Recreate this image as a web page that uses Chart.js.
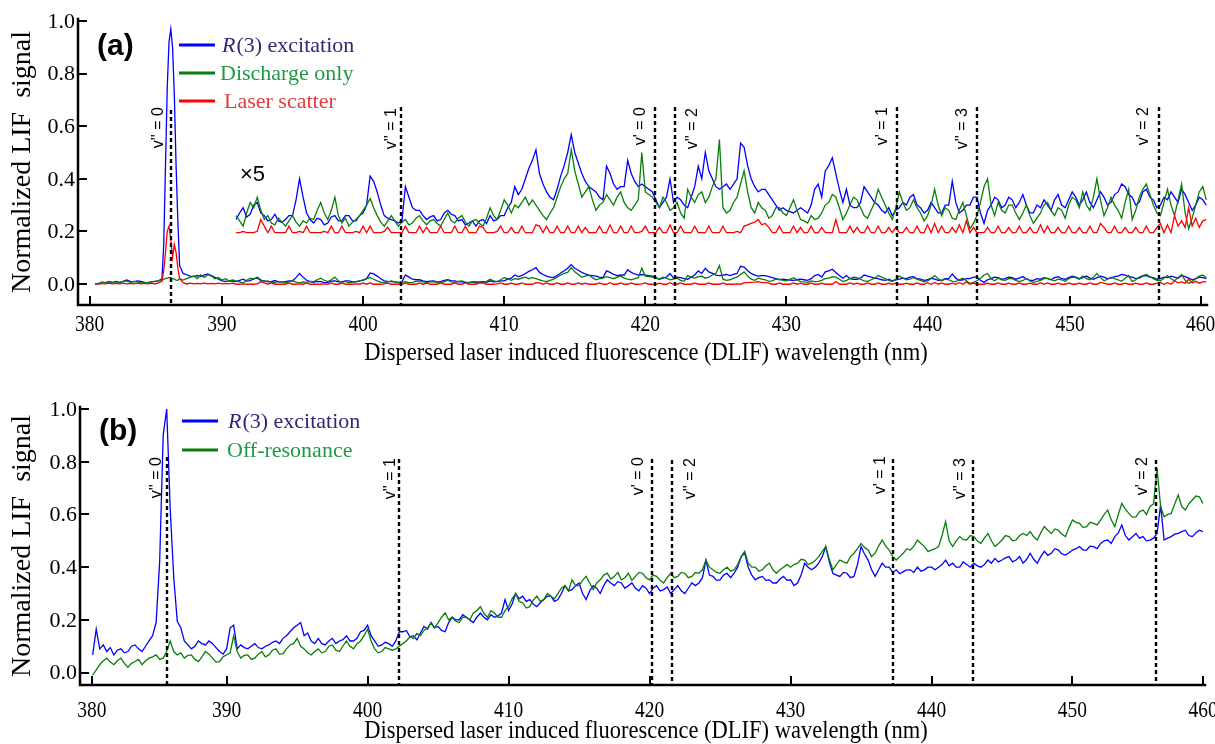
<!DOCTYPE html>
<html>
<head>
<meta charset="utf-8">
<title>DLIF spectra</title>
<script src="https://cdn.jsdelivr.net/npm/chart.js@4.4.1/dist/chart.umd.min.js"></script>
<style>
  html, body { margin: 0; padding: 0; background: #fff; }
  .panel { position: absolute; left: 0; width: 1215px; height: 372px; }
  #panelA { top: 0; }
  #panelB { top: 372px; }
</style>
</head>
<body>
<div class="panel" id="panelA"><canvas id="chartA"></canvas></div>
<div class="panel" id="panelB"><canvas id="chartB"></canvas></div>
<script>
// ---------- axis ticks ----------
const tickLabels = ['380', '390', '400', '410', '420', '430', '440', '450', '460'];
const aTickPos = [380.62, 390, 400, 410, 420, 430, 440, 450.1, 459.35];
const bTickPos = [380.45, 390, 400, 410, 420, 430, 440, 450, 459.27];
const yTicks = [0, 0.2, 0.4, 0.6, 0.8, 1.0];

// ---------- vibronic band markers ----------
const markerLabels = ["v'' = 0", "v'' = 1", "v' = 0", "v'' = 2", "v' = 1", "v'' = 3", "v' = 2"];
const aMarkers = [386.36, 402.72, 420.67, 422.09, 437.8, 443.49, 456.4];
const bMarkers = [385.8, 402.22, 420.16, 421.58, 437.28, 442.93, 455.9];

// ---------- panel (a), full scale, 381-391 nm ----------
const aLowWl = [381, 381.25, 381.5, 381.75, 382, 382.25, 382.5, 382.75, 383, 383.25,
  383.5, 383.75, 384, 384.25, 384.5, 384.75, 385, 385.25, 385.5, 385.75,
  385.875, 386, 386.125, 386.25, 386.375, 386.5, 386.625, 386.75, 386.875, 387,
  387.25, 387.5, 387.75, 388, 388.25, 388.5, 388.75, 389, 389.25, 389.5,
  389.75, 390, 390.25, 390.5, 390.75];
const aBlueLow = [0, 0, 0.002, 0.005, 0.008, 0.005, 0.01, 0.006, 0.01, 0.015,
  0.01, 0.008, 0.012, 0.01, 0.006, 0.005, 0.008, 0.01, 0.012, 0.02,
  0.15, 0.45, 0.75, 0.92, 0.97, 0.9, 0.72, 0.45, 0.24, 0.07,
  0.04, 0.035, 0.03, 0.028, 0.032, 0.028, 0.035, 0.038, 0.032, 0.025,
  0.018, 0.012, 0.01, 0.012, 0.01];
const aGreenLow = [0, 0.002, 0.008, 0.005, 0.01, 0.006, 0.008, 0.004, 0.01, 0.012,
  0.006, 0.01, 0.008, 0.004, 0.006, 0.005, 0.008, 0.01, 0.012, 0.015,
  0.018, 0.02, 0.022, 0.025, 0.024, 0.02, 0.018, 0.015, 0.014, 0.02,
  0.015, 0.02, 0.025, 0.03, 0.02, 0.035, 0.025, 0.035, 0.03, 0.02,
  0.025, 0.015, 0.02, 0.012, 0.015];
const aRedLow = [0, 0, 0.002, 0, 0.003, 0, 0.002, 0, 0.003, 0,
  0.002, 0, 0.003, 0, 0.002, 0, 0.003, 0, 0.004, 0.01,
  0.05, 0.12, 0.2, 0.22, 0.17, 0.1, 0.15, 0.12, 0.06, 0.02,
  0.005, 0, 0.003, 0, 0.002, 0, 0.003, 0, 0.002, 0,
  0.003, 0, 0.002, 0, 0.003];

// ---------- panel (a), x5 traces drawn at 0.2 + 5 x signal ----------
// sampled every 0.25 nm from 391 nm, 8 samples (2 nm) per row
const x5Offset = 0.2;
const x5Gain = 5;
const aX5Start = 391;
const aX5Step = 0.25;
const aBlueX5 = [
  0.245, 0.27, 0.29, 0.255, 0.265, 0.30, 0.31, 0.27,
  0.26, 0.24, 0.245, 0.265, 0.24, 0.235, 0.245, 0.26,
  0.26, 0.32, 0.40, 0.33, 0.27, 0.245, 0.232, 0.25,
  0.245, 0.225, 0.232, 0.255, 0.26, 0.24, 0.24, 0.26,
  0.26, 0.24, 0.24, 0.26, 0.27, 0.30, 0.41, 0.39,
  0.35, 0.30, 0.26, 0.25, 0.245, 0.24, 0.232, 0.24,
  0.37, 0.33, 0.29, 0.28, 0.28, 0.26, 0.245, 0.255,
  0.26, 0.24, 0.245, 0.27, 0.28, 0.265, 0.26, 0.24,
  0.245, 0.225, 0.232, 0.24, 0.22, 0.24, 0.245, 0.23,
  0.26, 0.24, 0.245, 0.26, 0.26, 0.29, 0.31, 0.37,
  0.34, 0.36, 0.40, 0.44, 0.47, 0.51, 0.42, 0.38,
  0.35, 0.33, 0.32, 0.36, 0.41, 0.45, 0.50, 0.568,
  0.50, 0.46, 0.42, 0.39, 0.37, 0.36, 0.35, 0.33,
  0.32, 0.448, 0.42, 0.38, 0.36, 0.37, 0.37, 0.47,
  0.42, 0.39, 0.37, 0.38, 0.37, 0.36, 0.35, 0.32,
  0.29, 0.31, 0.33, 0.40, 0.31, 0.33, 0.32, 0.30,
  0.29, 0.33, 0.37, 0.448, 0.40, 0.50, 0.43, 0.40,
  0.37, 0.36, 0.37, 0.38, 0.36, 0.38, 0.40, 0.536,
  0.52, 0.45, 0.40, 0.37, 0.35, 0.36, 0.36, 0.34,
  0.32, 0.30, 0.28, 0.29, 0.28, 0.275, 0.27, 0.28,
  0.29, 0.28, 0.27, 0.30, 0.36, 0.38, 0.33, 0.43,
  0.45, 0.48, 0.42, 0.36, 0.31, 0.36, 0.30, 0.29,
  0.29, 0.31, 0.37, 0.35, 0.33, 0.31, 0.30, 0.28,
  0.27, 0.29, 0.26, 0.28, 0.29, 0.31, 0.30, 0.33,
  0.34, 0.30, 0.29, 0.27, 0.28, 0.31, 0.29, 0.27,
  0.27, 0.30, 0.30, 0.39, 0.31, 0.27, 0.28, 0.30,
  0.30, 0.33, 0.33, 0.27, 0.23, 0.28, 0.30, 0.33,
  0.32, 0.29, 0.30, 0.33, 0.32, 0.29, 0.31, 0.34,
  0.30, 0.27, 0.27, 0.30, 0.29, 0.32, 0.30, 0.28,
  0.32, 0.34, 0.30, 0.29, 0.32, 0.35, 0.33, 0.30,
  0.32, 0.35, 0.31, 0.29, 0.32, 0.35, 0.33, 0.30,
  0.31, 0.34, 0.35, 0.38, 0.37, 0.34, 0.33, 0.30,
  0.31, 0.35, 0.36, 0.33, 0.32, 0.29, 0.30, 0.33,
  0.32, 0.35, 0.33, 0.31, 0.36, 0.34, 0.31, 0.28,
  0.30, 0.33, 0.32, 0.30];
const aGreenX5 = [
  0.26, 0.24, 0.22, 0.27, 0.31, 0.29, 0.33, 0.28,
  0.245, 0.26, 0.232, 0.225, 0.25, 0.235, 0.22, 0.24,
  0.26, 0.235, 0.22, 0.24, 0.232, 0.25, 0.245, 0.28,
  0.31, 0.27, 0.245, 0.28, 0.33, 0.26, 0.232, 0.25,
  0.22, 0.235, 0.245, 0.26, 0.28, 0.30, 0.325, 0.29,
  0.26, 0.235, 0.22, 0.24, 0.26, 0.24, 0.22, 0.235,
  0.245, 0.225, 0.232, 0.25, 0.26, 0.24, 0.225, 0.24,
  0.245, 0.23, 0.22, 0.245, 0.27, 0.24, 0.232, 0.25,
  0.26, 0.235, 0.22, 0.24, 0.245, 0.23, 0.22, 0.25,
  0.29, 0.26, 0.245, 0.28, 0.32, 0.30, 0.27, 0.30,
  0.29, 0.31, 0.33, 0.30, 0.32, 0.30, 0.28, 0.26,
  0.245, 0.27, 0.29, 0.33, 0.37, 0.40, 0.42, 0.511,
  0.43, 0.38, 0.33, 0.35, 0.37, 0.32, 0.28, 0.30,
  0.31, 0.34, 0.32, 0.30, 0.33, 0.35, 0.31, 0.29,
  0.28, 0.30, 0.32, 0.50, 0.35, 0.34, 0.33, 0.31,
  0.29, 0.33, 0.31, 0.28, 0.29, 0.31, 0.27, 0.25,
  0.36, 0.33, 0.31, 0.34, 0.35, 0.31, 0.33, 0.37,
  0.40, 0.549, 0.29, 0.27, 0.28, 0.31, 0.33, 0.38,
  0.43, 0.35, 0.29, 0.27, 0.31, 0.29, 0.28, 0.25,
  0.26, 0.29, 0.29, 0.27, 0.26, 0.29, 0.32, 0.28,
  0.245, 0.24, 0.232, 0.26, 0.245, 0.25, 0.27, 0.30,
  0.31, 0.34, 0.33, 0.29, 0.245, 0.27, 0.30, 0.33,
  0.32, 0.29, 0.26, 0.25, 0.28, 0.31, 0.36, 0.33,
  0.30, 0.27, 0.245, 0.29, 0.35, 0.31, 0.28, 0.29,
  0.32, 0.29, 0.27, 0.24, 0.26, 0.30, 0.36, 0.30,
  0.26, 0.29, 0.28, 0.25, 0.245, 0.28, 0.31, 0.26,
  0.21, 0.23, 0.26, 0.31, 0.37, 0.40, 0.30, 0.26,
  0.31, 0.28, 0.27, 0.30, 0.30, 0.27, 0.245, 0.27,
  0.30, 0.26, 0.23, 0.25, 0.27, 0.30, 0.31, 0.28,
  0.26, 0.29, 0.28, 0.25, 0.30, 0.33, 0.32, 0.29,
  0.35, 0.30, 0.28, 0.33, 0.40, 0.32, 0.26, 0.29,
  0.33, 0.30, 0.28, 0.25, 0.31, 0.36, 0.245, 0.28,
  0.33, 0.36, 0.38, 0.34, 0.30, 0.27, 0.26, 0.31,
  0.36, 0.30, 0.26, 0.32, 0.38, 0.27, 0.21, 0.25,
  0.30, 0.35, 0.37, 0.32];
const aRedX5 = [
  0.195, 0.195, 0.2, 0.195, 0.195, 0.195, 0.2, 0.245,
  0.22, 0.195, 0.22, 0.195, 0.195, 0.195, 0.195, 0.22,
  0.195, 0.195, 0.2, 0.195, 0.22, 0.195, 0.195, 0.195,
  0.195, 0.2, 0.195, 0.22, 0.195, 0.195, 0.22, 0.195,
  0.195, 0.195, 0.2, 0.195, 0.22, 0.195, 0.22, 0.195,
  0.195, 0.195, 0.2, 0.215, 0.195, 0.195, 0.195, 0.195,
  0.22, 0.195, 0.195, 0.195, 0.22, 0.195, 0.215, 0.195,
  0.195, 0.195, 0.22, 0.195, 0.195, 0.195, 0.22, 0.195,
  0.195, 0.22, 0.195, 0.195, 0.195, 0.22, 0.215, 0.195,
  0.195, 0.195, 0.2, 0.22, 0.195, 0.195, 0.215, 0.195,
  0.195, 0.22, 0.195, 0.195, 0.195, 0.225, 0.22, 0.195,
  0.22, 0.195, 0.195, 0.22, 0.195, 0.195, 0.22, 0.195,
  0.195, 0.22, 0.195, 0.215, 0.195, 0.195, 0.195, 0.22,
  0.195, 0.195, 0.225, 0.195, 0.195, 0.22, 0.195, 0.195,
  0.22, 0.195, 0.195, 0.2, 0.22, 0.195, 0.195, 0.195,
  0.215, 0.195, 0.195, 0.225, 0.195, 0.195, 0.22, 0.195,
  0.195, 0.195, 0.22, 0.195, 0.195, 0.195, 0.22, 0.195,
  0.195, 0.195, 0.22, 0.195, 0.195, 0.195, 0.2, 0.195,
  0.22, 0.225, 0.23, 0.235, 0.245, 0.225, 0.23, 0.215,
  0.195, 0.195, 0.22, 0.195, 0.195, 0.195, 0.22, 0.195,
  0.215, 0.195, 0.195, 0.22, 0.195, 0.195, 0.215, 0.195,
  0.195, 0.195, 0.245, 0.195, 0.195, 0.195, 0.22, 0.195,
  0.215, 0.195, 0.195, 0.22, 0.195, 0.195, 0.22, 0.195,
  0.195, 0.215, 0.195, 0.215, 0.195, 0.195, 0.215, 0.195,
  0.195, 0.22, 0.195, 0.195, 0.225, 0.195, 0.23, 0.195,
  0.22, 0.195, 0.195, 0.215, 0.195, 0.225, 0.195, 0.24,
  0.195, 0.215, 0.195, 0.195, 0.195, 0.215, 0.195, 0.195,
  0.22, 0.195, 0.195, 0.215, 0.195, 0.195, 0.22, 0.195,
  0.195, 0.215, 0.195, 0.195, 0.225, 0.195, 0.22, 0.195,
  0.195, 0.215, 0.195, 0.195, 0.22, 0.195, 0.195, 0.215,
  0.195, 0.195, 0.22, 0.195, 0.195, 0.23, 0.215, 0.195,
  0.195, 0.22, 0.195, 0.195, 0.215, 0.195, 0.195, 0.215,
  0.195, 0.195, 0.22, 0.195, 0.195, 0.215, 0.23, 0.195,
  0.225, 0.195, 0.26, 0.22, 0.24, 0.215, 0.29, 0.22,
  0.25, 0.215, 0.24, 0.245];

// ---------- panel (b), sampled every 0.25 nm from 380.5 nm ----------
const bStart = 380.5;
const bStep = 0.25;
const bBlue = [
  0.067, 0.165, 0.09, 0.105, 0.08, 0.095, 0.067, 0.085,
  0.09, 0.075, 0.08, 0.10, 0.105, 0.09, 0.08, 0.10,
  0.12, 0.14, 0.19, 0.42, 0.90, 1.0, 0.62, 0.36,
  0.195, 0.17, 0.12, 0.105, 0.09, 0.10, 0.12, 0.11,
  0.105, 0.12, 0.11, 0.095, 0.08, 0.07, 0.09, 0.17,
  0.18, 0.09, 0.105, 0.095, 0.09, 0.10, 0.11, 0.095,
  0.09, 0.10, 0.105, 0.115, 0.12, 0.11, 0.13, 0.14,
  0.155, 0.17, 0.18, 0.19, 0.14, 0.15, 0.12, 0.11,
  0.13, 0.11, 0.105, 0.12, 0.13, 0.11, 0.12, 0.125,
  0.14, 0.12, 0.12, 0.13, 0.155, 0.16, 0.18, 0.14,
  0.12, 0.10, 0.105, 0.115, 0.11, 0.10, 0.12, 0.155,
  0.155, 0.16, 0.136, 0.14, 0.124, 0.15, 0.175, 0.165,
  0.19, 0.17, 0.175, 0.16, 0.155, 0.19, 0.21, 0.20,
  0.20, 0.22, 0.21, 0.20, 0.19, 0.21, 0.226, 0.21,
  0.20, 0.22, 0.21, 0.215, 0.226, 0.277, 0.235, 0.26,
  0.30, 0.28, 0.29, 0.27, 0.277, 0.26, 0.25, 0.265,
  0.277, 0.29, 0.29, 0.27, 0.277, 0.30, 0.33, 0.31,
  0.315, 0.33, 0.34, 0.30, 0.277, 0.31, 0.33, 0.32,
  0.30, 0.33, 0.352, 0.34, 0.33, 0.345, 0.34, 0.32,
  0.33, 0.34, 0.32, 0.31, 0.33, 0.32, 0.30, 0.32,
  0.33, 0.31, 0.315, 0.325, 0.30, 0.315, 0.33, 0.31,
  0.30, 0.32, 0.34, 0.33, 0.34, 0.36, 0.427, 0.37,
  0.365, 0.35, 0.352, 0.37, 0.377, 0.36, 0.377, 0.40,
  0.44, 0.453, 0.40, 0.37, 0.352, 0.36, 0.365, 0.35,
  0.352, 0.34, 0.34, 0.355, 0.365, 0.35, 0.352, 0.33,
  0.34, 0.37, 0.415, 0.40, 0.39, 0.40, 0.415, 0.44,
  0.478, 0.42, 0.377, 0.37, 0.365, 0.38, 0.377, 0.36,
  0.365, 0.41, 0.478, 0.45, 0.427, 0.39, 0.365, 0.39,
  0.415, 0.40, 0.40, 0.38, 0.39, 0.375, 0.383, 0.39,
  0.39, 0.38, 0.40, 0.385, 0.39, 0.40, 0.40, 0.39,
  0.40, 0.41, 0.427, 0.405, 0.415, 0.40, 0.40, 0.42,
  0.41, 0.40, 0.415, 0.405, 0.40, 0.41, 0.427, 0.415,
  0.433, 0.42, 0.427, 0.435, 0.44, 0.42, 0.427, 0.44,
  0.415, 0.43, 0.453, 0.43, 0.415, 0.44, 0.46, 0.445,
  0.453, 0.47, 0.465, 0.45, 0.446, 0.455, 0.465, 0.47,
  0.478, 0.465, 0.465, 0.48, 0.478, 0.47, 0.49, 0.50,
  0.503, 0.49, 0.516, 0.53, 0.56, 0.52, 0.503, 0.515,
  0.528, 0.51, 0.516, 0.50, 0.503, 0.51, 0.528, 0.635,
  0.503, 0.51, 0.516, 0.525, 0.528, 0.535, 0.54, 0.52,
  0.516, 0.53, 0.54, 0.535];
const bGreen = [
  -0.01, 0.01, 0.03, 0.045, 0.055, 0.04, 0.03, 0.045,
  0.055, 0.035, 0.02, 0.035, 0.042, 0.05, 0.03, 0.045,
  0.055, 0.06, 0.067, 0.05, 0.055, 0.08, 0.12, 0.08,
  0.067, 0.075, 0.055, 0.065, 0.067, 0.05, 0.042, 0.06,
  0.08, 0.07, 0.055, 0.04, 0.042, 0.06, 0.067, 0.075,
  0.14, 0.08, 0.055, 0.065, 0.067, 0.05, 0.055, 0.07,
  0.08, 0.06, 0.067, 0.085, 0.09, 0.07, 0.072, 0.09,
  0.105, 0.11, 0.13, 0.10, 0.09, 0.075, 0.067, 0.08,
  0.09, 0.075, 0.08, 0.10, 0.105, 0.085, 0.08, 0.10,
  0.12, 0.10, 0.09, 0.11, 0.12, 0.14, 0.165, 0.12,
  0.09, 0.075, 0.08, 0.095, 0.09, 0.085, 0.09, 0.10,
  0.11, 0.12, 0.136, 0.13, 0.149, 0.14, 0.16, 0.17,
  0.187, 0.17, 0.19, 0.21, 0.226, 0.20, 0.21, 0.195,
  0.19, 0.21, 0.21, 0.20, 0.226, 0.235, 0.25, 0.225,
  0.21, 0.235, 0.226, 0.21, 0.21, 0.235, 0.25, 0.28,
  0.30, 0.27, 0.265, 0.245, 0.25, 0.275, 0.29, 0.27,
  0.277, 0.30, 0.29, 0.28, 0.30, 0.32, 0.33, 0.31,
  0.352, 0.33, 0.33, 0.35, 0.365, 0.34, 0.315, 0.34,
  0.352, 0.37, 0.377, 0.355, 0.365, 0.38, 0.352, 0.36,
  0.377, 0.35, 0.365, 0.38, 0.377, 0.36, 0.352, 0.37,
  0.365, 0.35, 0.34, 0.36, 0.377, 0.36, 0.365, 0.38,
  0.377, 0.36, 0.365, 0.38, 0.377, 0.39, 0.427, 0.40,
  0.39, 0.38, 0.377, 0.39, 0.40, 0.385, 0.39, 0.41,
  0.44, 0.46, 0.415, 0.40, 0.40, 0.385, 0.39, 0.405,
  0.415, 0.39, 0.377, 0.39, 0.40, 0.41, 0.40, 0.41,
  0.415, 0.43, 0.427, 0.41, 0.415, 0.425, 0.44, 0.46,
  0.478, 0.43, 0.39, 0.41, 0.427, 0.42, 0.415, 0.44,
  0.453, 0.47, 0.49, 0.475, 0.465, 0.44, 0.453, 0.48,
  0.503, 0.48, 0.465, 0.44, 0.427, 0.44, 0.453, 0.47,
  0.465, 0.48, 0.503, 0.49, 0.478, 0.46, 0.465, 0.47,
  0.478, 0.52, 0.573, 0.50, 0.478, 0.50, 0.516, 0.505,
  0.503, 0.52, 0.516, 0.50, 0.49, 0.51, 0.528, 0.50,
  0.478, 0.49, 0.503, 0.52, 0.516, 0.50, 0.503, 0.52,
  0.528, 0.52, 0.535, 0.515, 0.503, 0.53, 0.554, 0.54,
  0.528, 0.545, 0.54, 0.525, 0.516, 0.55, 0.579, 0.57,
  0.566, 0.55, 0.554, 0.57, 0.566, 0.56, 0.579, 0.60,
  0.617, 0.58, 0.554, 0.60, 0.642, 0.62, 0.604, 0.59,
  0.591, 0.61, 0.617, 0.60, 0.63, 0.64, 0.775, 0.63,
  0.591, 0.60, 0.604, 0.64, 0.674, 0.63, 0.617, 0.64,
  0.655, 0.67, 0.667, 0.642];

// ---------- colours ----------
const BLUE = '#0000ff';
const GREEN = '#0a7d0a';
const RED = '#ff0000';
const SERIF = '"Liberation Serif", "Times New Roman", serif';
const SANS = '"Liberation Sans", Arial, sans-serif';

function zip(wl, vals) {
  if (wl.length !== vals.length) throw new Error('length mismatch ' + wl.length + ' vs ' + vals.length);
  return wl.map(function (w, i) { return { x: w, y: vals[i] }; });
}

// evenly sampled trace -> points
function sampled(start, step, vals) {
  return vals.map(function (v, i) { return { x: start + i * step, y: v }; });
}

// full-scale trace = low-wavelength part + the x5 part scaled back
function fullScale(low, x5) {
  const pts = zip(aLowWl, low);
  sampled(aX5Start, aX5Step, x5).forEach(function (p) {
    pts.push({ x: p.x, y: (p.y - x5Offset) / x5Gain });
  });
  return pts;
}

function line(data, color) {
  return { data: data, borderColor: color, borderWidth: 1.3, pointRadius: 0, tension: 0, fill: false };
}

// text stretched vertically like the original figure
function stretchedText(ctx, text, x, y, sy) {
  ctx.save();
  ctx.translate(x, y);
  ctx.scale(1, sy);
  ctx.fillText(text, 0, 0);
  ctx.restore();
}

const decorations = {
  id: 'decorations',
  afterDatasetsDraw(chart, args, o) {
    const ctx = chart.ctx;
    const a = chart.chartArea;
    const x = chart.scales.x;
    const y = chart.scales.y;
    ctx.save();

    // dashed band markers
    ctx.strokeStyle = '#000';
    ctx.lineWidth = 2.4;
    ctx.setLineDash([4, 3]);
    o.markers.forEach(function (m, i) {
      const px = Math.round(x.getPixelForValue(m));
      ctx.beginPath();
      ctx.moveTo(px, o.markerTop[i]);
      ctx.lineTo(px, a.bottom);
      ctx.stroke();
    });
    ctx.setLineDash([]);

    ctx.fillStyle = '#000';
    ctx.font = '16px ' + SANS;
    ctx.textAlign = 'right';
    ctx.textBaseline = 'alphabetic';
    o.markers.forEach(function (m, i) {
      const px = x.getPixelForValue(m) + o.markerLabelDx[i];
      ctx.save();
      ctx.translate(px, o.markerLabelTop[i]);
      ctx.rotate(-Math.PI / 2);
      ctx.fillText(markerLabels[i], 0, 0);
      ctx.restore();
    });

    // axes with inward ticks
    ctx.strokeStyle = '#000';
    ctx.lineWidth = 2.5;
    ctx.lineCap = 'square';
    ctx.beginPath();
    ctx.moveTo(a.left, a.top - 2);
    ctx.lineTo(a.left, a.bottom);
    ctx.lineTo(a.right, a.bottom);
    ctx.stroke();
    ctx.lineCap = 'butt';
    ctx.lineWidth = 2;
    o.xTicks.forEach(function (v) {
      const px = Math.round(x.getPixelForValue(v));
      ctx.beginPath();
      ctx.moveTo(px, a.bottom);
      ctx.lineTo(px, a.bottom - 9);
      ctx.stroke();
    });
    yTicks.forEach(function (v) {
      const py = Math.round(y.getPixelForValue(v));
      ctx.beginPath();
      ctx.moveTo(a.left, py);
      ctx.lineTo(a.left + 9, py);
      ctx.stroke();
    });

    // tick labels
    ctx.fillStyle = '#000';
    ctx.font = '19.5px ' + SERIF;
    ctx.textAlign = 'center';
    ctx.textBaseline = 'middle';
    o.xTicks.forEach(function (v, i) {
      stretchedText(ctx, tickLabels[i], x.getPixelForValue(v), o.xLabelY, 1.2);
    });
    ctx.font = '22px ' + SERIF;
    ctx.textAlign = 'right';
    yTicks.forEach(function (v) {
      ctx.fillText(v.toFixed(1), a.left - 3, y.getPixelForValue(v) + 1);
    });

    // axis titles
    ctx.font = '22.5px ' + SERIF;
    ctx.textAlign = 'center';
    stretchedText(ctx, 'Dispersed laser induced fluorescence (DLIF) wavelength (nm)', 646, o.xTitleY, 1.15);
    ctx.save();
    ctx.translate(23, o.yTitleY);
    ctx.rotate(-Math.PI / 2);
    ctx.font = '28px ' + SERIF;
    ctx.fillText('Normalized LIF  signal', 0, 0);
    ctx.restore();

    // panel tag
    ctx.font = 'bold 30px ' + SANS;
    ctx.textAlign = 'left';
    ctx.fillText(o.tag, o.tagX, o.tagY);

    // legend
    o.legend.forEach(function (item) {
      ctx.strokeStyle = item.color;
      ctx.lineWidth = 3;
      ctx.beginPath();
      ctx.moveTo(o.legendX0, item.y);
      ctx.lineTo(o.legendX1, item.y);
      ctx.stroke();
      ctx.fillStyle = item.textColor;
      ctx.textBaseline = 'middle';
      let tx = item.textX;
      if (item.italic) {
        ctx.font = 'italic 22px ' + SERIF;
        ctx.fillText(item.italic, tx, item.y + 1);
        tx += ctx.measureText(item.italic).width + 1;
      }
      ctx.font = '22px ' + SERIF;
      ctx.fillText(item.text, tx, item.y + 1);
    });

    if (o.note) {
      ctx.fillStyle = '#000';
      ctx.font = '22px ' + SANS;
      ctx.textBaseline = 'middle';
      ctx.fillText(o.note, o.noteX, o.noteY);
    }
    ctx.restore();
  }
};

function makeChart(id, datasets, s) {
  return new Chart(document.getElementById(id), {
    type: 'line',
    data: { datasets: datasets },
    options: {
      responsive: true,
      maintainAspectRatio: false,
      animation: false,
      events: [],
      layout: { padding: { left: 0, right: s.padRight, top: s.padTop, bottom: 0 } },
      plugins: { legend: { display: false }, tooltip: { enabled: false }, decorations: s },
      scales: {
        x: {
          type: 'linear', min: s.xMin, max: s.xMax,
          afterFit: function (sc) { sc.height = s.xAxisHeight; },
          ticks: { display: false },
          grid: { display: false, drawTicks: false },
          border: { display: false }
        },
        y: {
          min: s.yMin, max: 1.0,
          afterFit: function (sc) { sc.width = s.yAxisWidth; },
          ticks: { display: false },
          grid: { display: false, drawTicks: false },
          border: { display: false }
        }
      }
    },
    plugins: [decorations]
  });
}

const R3 = { italic: 'R', text: '(3) excitation', color: BLUE, textColor: '#2f2878' };

makeChart('chartA', [
  line(sampled(aX5Start, aX5Step, aRedX5), RED),
  line(fullScale(aRedLow, aRedX5), RED),
  line(sampled(aX5Start, aX5Step, aGreenX5), GREEN),
  line(fullScale(aGreenLow, aGreenX5), GREEN),
  line(sampled(aX5Start, aX5Step, aBlueX5), BLUE),
  line(fullScale(aBlueLow, aBlueX5), BLUE)
], {
  xMin: 379.8, xMax: 459.8, yMin: -0.08,
  padTop: 21, padRight: 8, xAxisHeight: 67, yAxisWidth: 78,
  xTicks: aTickPos, markers: aMarkers,
  markerTop: [110, 107, 107, 107, 107, 107, 107],
  markerLabelTop: [107, 108, 107, 108, 107, 108, 107],
  markerLabelDx: [-8, -5, -10, 22, -10, -10, -11],
  xLabelY: 325, xTitleY: 353, yTitleY: 162,
  tag: '(a)', tagX: 97, tagY: 47,
  legendX0: 179, legendX1: 215,
  legend: [
    Object.assign({}, R3, { y: 45, textX: 222 }),
    { text: 'Discharge only', color: GREEN, textColor: '#1e9a45', y: 73, textX: 220 },
    { text: 'Laser scatter', color: RED, textColor: '#e53b3b', y: 101, textX: 224 }
  ],
  note: '\u00d75', noteX: 240, noteY: 175
});

makeChart('chartB', [
  line(sampled(bStart, bStep, bGreen), GREEN),
  line(sampled(bStart, bStep, bBlue), BLUE)
], {
  xMin: 379.6, xMax: 459.4, yMin: -0.047,
  padTop: 37, padRight: 10, xAxisHeight: 59, yAxisWidth: 80,
  xTicks: bTickPos, markers: bMarkers,
  markerTop: [85, 87, 87, 88, 87, 88, 88],
  markerLabelTop: [85, 86, 85, 86, 84, 86, 85],
  markerLabelDx: [-6, -4, -9, 23, -8, -8, -9],
  xLabelY: 339, xTitleY: 359, yTitleY: 174,
  tag: '(b)', tagX: 99, tagY: 60,
  legendX0: 182, legendX1: 218,
  legend: [
    Object.assign({}, R3, { y: 49, textX: 228 }),
    { text: 'Off-resonance', color: GREEN, textColor: '#1e9a45', y: 78, textX: 227 }
  ]
});
</script>
</body>
</html>
